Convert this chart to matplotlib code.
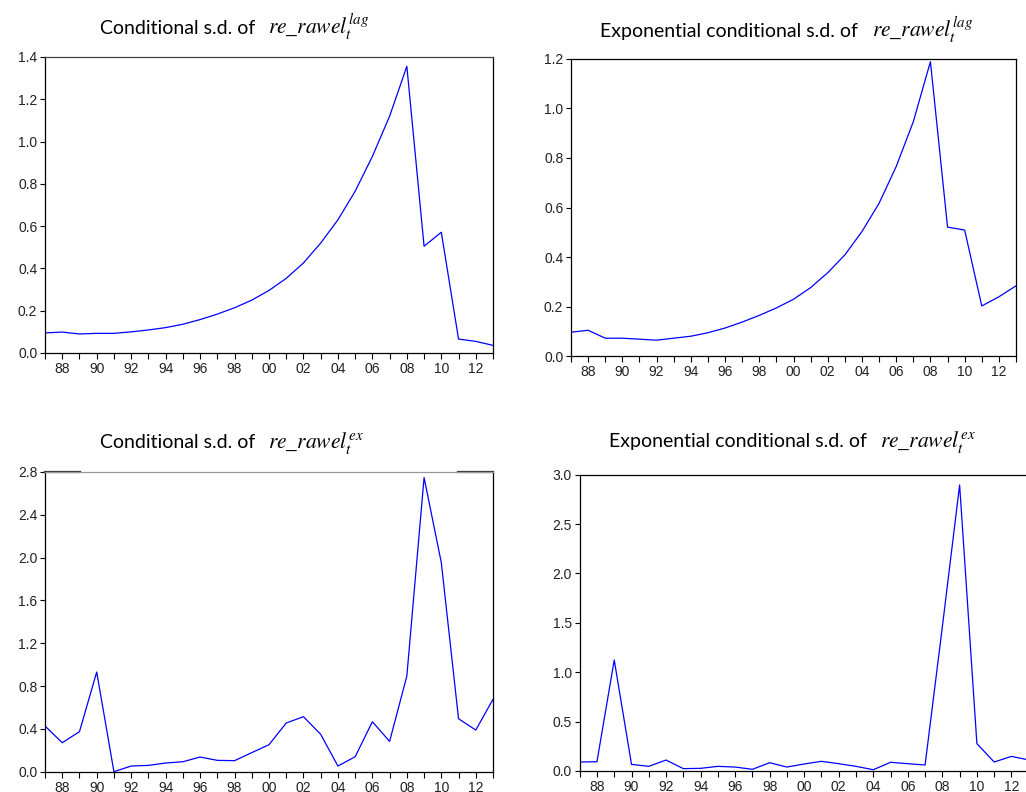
import numpy as np
import matplotlib
matplotlib.use('Agg')
import matplotlib.pyplot as plt
from matplotlib.ticker import MultipleLocator, FuncFormatter

plt.rcParams['mathtext.fontset'] = 'stix'
plt.rcParams['font.family'] = ['Liberation Sans', 'DejaVu Sans']

years = np.arange(1987, 2014)

# Conditional s.d. of re_rawel lag
sd_lag = [0.095, 0.099, 0.090, 0.093, 0.093, 0.100, 0.109, 0.120, 0.136, 0.158,
          0.184, 0.214, 0.250, 0.296, 0.353, 0.426, 0.520, 0.630, 0.765, 0.930,
          1.120, 1.356, 0.505, 0.571, 0.066, 0.055, 0.036]

# Exponential conditional s.d. of re_rawel lag
exp_sd_lag = [0.097, 0.105, 0.073, 0.073, 0.069, 0.065, 0.073, 0.081, 0.095, 0.114,
              0.138, 0.165, 0.195, 0.230, 0.277, 0.337, 0.409, 0.503, 0.617, 0.765,
              0.946, 1.188, 0.521, 0.509, 0.203, 0.240, 0.284]

# Conditional s.d. of re_rawel ex
sd_ex = [0.427, 0.271, 0.374, 0.931, 0.000, 0.053, 0.059, 0.081, 0.093, 0.137,
         0.106, 0.103, 0.178, 0.252, 0.455, 0.514, 0.349, 0.053, 0.140, 0.467,
         0.283, 0.894, 2.748, 1.953, 0.495, 0.389, 0.676]

# Exponential conditional s.d. of re_rawel ex
exp_sd_ex = [0.091, 0.094, 1.124, 0.067, 0.047, 0.111, 0.024, 0.027, 0.047, 0.040,
             0.017, 0.084, 0.040, 0.071, 0.098, 0.074, 0.047, 0.013, 0.088, 0.074,
             0.061, 1.460, 2.896, 0.277, 0.091, 0.148, 0.112]

title_words = ['Conditional s.d. of', 'Exponential conditional s.d. of',
               'Conditional s.d. of', 'Exponential conditional s.d. of']
title_math = ['$re\\_rawel_t^{lag}$', '$re\\_rawel_t^{lag}$',
              '$re\\_rawel_t^{ex}$', '$re\\_rawel_t^{ex}$']

W, H = 1026, 792
fig = plt.figure(figsize=(W / 100, H / 100), dpi=100)


def px_axes(left, right, top, bottom):
    return fig.add_axes([left / W, 1 - bottom / H, (right - left) / W, (bottom - top) / H])


def style(ax, data, ymax, ystep, topcolor='black'):
    ax.plot(years, data, color='#0000ff', lw=0.9)
    ax.set_xlim(1987, 2013)
    ax.set_ylim(0, ymax)
    ax.xaxis.set_major_locator(MultipleLocator(2))
    ax.xaxis.set_minor_locator(MultipleLocator(1))
    ax.xaxis.set_major_formatter(FuncFormatter(lambda v, p: '%02d' % (int(round(v)) % 100)))
    ax.yaxis.set_major_locator(MultipleLocator(ystep))
    ax.yaxis.set_major_formatter(FuncFormatter(lambda v, p: '%.1f' % v))
    ax.tick_params(axis='x', which='both', direction='out', length=4.5, width=0.8,
                   pad=2, labelsize=10, labelcolor='#222222', top=False)
    ax.tick_params(axis='y', direction='out', length=3.5, width=0.8, pad=2,
                   labelsize=10, labelcolor='#222222', right=False)
    for s in ax.spines.values():
        s.set_linewidth(0.9)
        s.set_color('black')
    ax.spines['top'].set_color(topcolor)


ax1 = px_axes(45, 493, 57, 353)
style(ax1, sd_lag, 1.4, 0.2, topcolor='#444444')

ax2 = px_axes(571, 1016, 58.7, 356.3)
style(ax2, exp_sd_lag, 1.2, 0.2)

ax3 = px_axes(45, 493, 472, 771.7)
style(ax3, sd_ex, 2.8, 0.4, topcolor='#999999')
# darker end pieces of the top border
ax3.plot([0, 0.078], [1, 1], transform=ax3.transAxes, color='#333333', lw=1.6, clip_on=False)
ax3.plot([0.922, 1], [1, 1], transform=ax3.transAxes, color='#333333', lw=1.6, clip_on=False)

ax4 = px_axes(579.7, 1028.7, 474.7, 771)
style(ax4, exp_sd_ex, 3.0, 0.5)

word_x = [100, 600.3, 100, 608.7]
math_x = [267.7, 872.3, 267.7, 879.7]
base_y = [34, 37.3, 448.3, 446.7]
for words, mth, xw, xm, y in zip(title_words, title_math, word_x, math_x, base_y):
    fig.text(xw / W, 1 - y / H, words, ha='left', va='baseline', fontsize=14,
             family='Lato', color='black')
    fig.text(xm / W, 1 - y / H, mth, ha='left', va='baseline', fontsize=15.5,
             color='black')

fig.savefig('out.png', dpi=100)
